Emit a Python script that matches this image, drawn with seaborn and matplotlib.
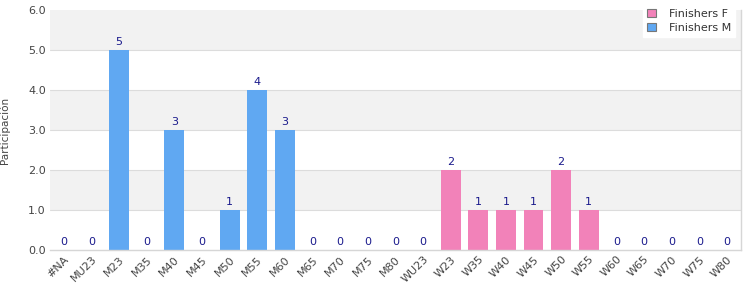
import numpy as np
import pandas as pd
import matplotlib.pyplot as plt
import seaborn as sns
from matplotlib.patches import Patch

categories = ["#NA", "MU23", "M23", "M35", "M40", "M45", "M50", "M55", "M60",
              "M65", "M70", "M75", "M80", "WU23", "W23", "W35", "W40", "W45",
              "W50", "W55", "W60", "W65", "W70", "W75", "W80"]
values = [0, 0, 5, 0, 3, 0, 1, 4, 3, 0, 0, 0, 0, 0, 2, 1, 1, 1, 2, 1, 0, 0, 0, 0, 0]
series = ["Finishers M"] * 13 + ["Finishers F"] * 12
y_ticks = [0.0, 1.0, 2.0, 3.0, 4.0, 5.0, 6.0]

colors = {"Finishers M": "#60a8f2", "Finishers F": "#f282b9"}

df = pd.DataFrame({"cat": categories, "val": values, "serie": series})

sns.set_style("white")
plt.rcParams["font.family"] = ["DejaVu Sans"]

fig = plt.figure(figsize=(7.5, 3), dpi=100)
ax = fig.add_axes([0.0667, 0.1667, 0.921, 0.80])

# alternating background bands
for lo in range(0, 6):
    ax.axhspan(lo, lo + 1, color="#f2f2f2" if lo % 2 == 1 else "white", zorder=0, lw=0)
for t in y_ticks[1:-1]:
    ax.axhline(t, color="#dcdcdc", lw=0.8, zorder=0.5)

sns.barplot(data=df, x="cat", y="val", hue="serie", palette=colors,
            dodge=False, width=0.72, order=categories, ax=ax, legend=False,
            saturation=1, zorder=2, linewidth=0, edgecolor="none")

for i, v in enumerate(values):
    ax.text(i, v + 0.08, str(v), ha="center", va="bottom", fontsize=8,
            color="#1a1a8c", zorder=3)

ax.set_ylim(0, 6)
ax.set_xlim(-0.5, len(categories) - 0.5)
ax.set_yticks(y_ticks)
ax.set_yticklabels([f"{t:.1f}" for t in y_ticks], fontsize=8, color="#444444")
ax.set_xticks(range(len(categories)))
ax.set_xticklabels(categories, rotation=45, ha="right", rotation_mode="anchor",
                   fontsize=8, color="#444444")
ax.tick_params(axis="both", length=0, pad=3)
ax.set_xlabel("")
ax.set_ylabel("Participación", fontsize=7.5, color="#444444")
ax.yaxis.set_label_coords(-0.058, 0.5)

for s in ["left", "top"]:
    ax.spines[s].set_visible(False)
for s in ["right", "bottom"]:
    ax.spines[s].set_color("#d6d6d6")
    ax.spines[s].set_linewidth(1)

handles = [Patch(facecolor=colors["Finishers F"], edgecolor="#777777", lw=0.8),
           Patch(facecolor=colors["Finishers M"], edgecolor="#777777", lw=0.8)]
leg = ax.legend(handles, ["Finishers F", "Finishers M"], loc="upper right",
                bbox_to_anchor=(1.0, 1.045), fontsize=8, frameon=True,
                fancybox=False, framealpha=1, edgecolor="white",
                handlelength=0.8, handleheight=0.8, handletextpad=1.2,
                borderpad=0.35, labelspacing=0.35)
for t in leg.get_texts():
    t.set_color("#333333")

fig.savefig("out.png", dpi=100, facecolor="white")
